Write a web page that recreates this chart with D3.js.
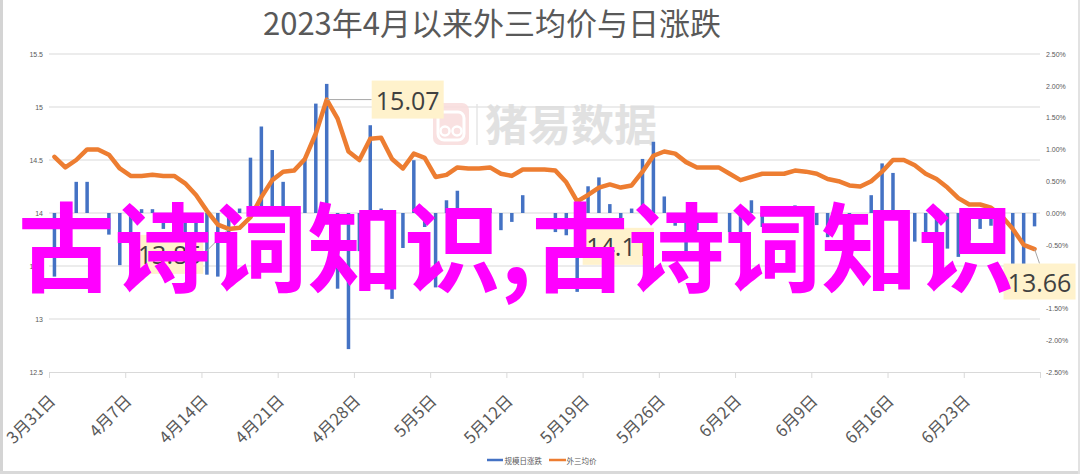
<!DOCTYPE html>
<html><head><meta charset="utf-8">
<script src="https://cdn.jsdelivr.net/npm/d3@7"></script>
<style>body{margin:0;background:#fff;} svg{display:block;}</style>
</head><body>
<svg id="c" width="1080" height="474"></svg>
<script>
const dates = [
"2023-03-31",
"2023-04-01","2023-04-02","2023-04-03","2023-04-04","2023-04-05","2023-04-06","2023-04-07","2023-04-08","2023-04-09","2023-04-10",
"2023-04-11","2023-04-12","2023-04-13","2023-04-14","2023-04-15","2023-04-16","2023-04-17","2023-04-18","2023-04-19","2023-04-20",
"2023-04-21","2023-04-22","2023-04-23","2023-04-24","2023-04-25","2023-04-26","2023-04-27","2023-04-28","2023-04-29","2023-04-30",
"2023-05-01","2023-05-02","2023-05-03","2023-05-04","2023-05-05","2023-05-06","2023-05-07","2023-05-08","2023-05-09","2023-05-10",
"2023-05-11","2023-05-12","2023-05-13","2023-05-14","2023-05-15","2023-05-16","2023-05-17","2023-05-18","2023-05-19","2023-05-20",
"2023-05-21","2023-05-22","2023-05-23","2023-05-24","2023-05-25","2023-05-26","2023-05-27","2023-05-28","2023-05-29","2023-05-30","2023-05-31",
"2023-06-01","2023-06-02","2023-06-03","2023-06-04","2023-06-05","2023-06-06","2023-06-07","2023-06-08","2023-06-09","2023-06-10",
"2023-06-11","2023-06-12","2023-06-13","2023-06-14","2023-06-15","2023-06-16","2023-06-17","2023-06-18","2023-06-19","2023-06-20",
"2023-06-21","2023-06-22","2023-06-23","2023-06-24","2023-06-25","2023-06-26","2023-06-27","2023-06-28","2023-06-29"
];
const avgPrice = [
14.53,
14.43,14.50,14.60,14.60,14.55,14.42,14.35,14.35,14.36,14.35,
14.35,14.28,14.17,14.02,13.89,13.85,13.86,13.96,14.15,14.31,
14.39,14.40,14.51,14.75,15.07,14.89,14.58,14.50,14.70,14.71,
14.51,14.42,14.56,14.52,14.34,14.36,14.43,14.42,14.42,14.43,
14.37,14.35,14.41,14.41,14.41,14.40,14.29,14.11,14.17,14.24,
14.27,14.24,14.26,14.39,14.54,14.58,14.56,14.48,14.43,14.43,14.43,
14.37,14.31,14.34,14.37,14.37,14.37,14.40,14.39,14.37,14.32,
14.30,14.26,14.25,14.30,14.39,14.50,14.50,14.45,14.37,14.32,
14.24,14.14,14.08,14.08,14.05,13.97,13.85,13.70,13.66
];
const dailyChangePct = [
-1.00,
-0.50,0.49,0.49,0.00,-0.34,-0.82,-0.50,0.06,0.06,-0.25,
-0.25,-0.53,-0.60,-0.97,-1.00,-0.30,0.07,0.87,1.36,0.99,
0.49,0.07,0.85,1.72,2.03,-1.19,-2.14,-0.60,1.38,0.07,
-1.35,-0.55,0.83,-0.22,-1.17,0.20,0.35,0.00,0.00,0.07,
-0.27,-0.14,0.28,0.00,0.00,-0.30,-0.35,-1.24,0.42,0.56,
0.14,-0.22,0.07,0.85,1.12,0.26,-0.20,-0.60,-0.27,0.00,0.00,
-0.30,-0.33,0.20,-0.22,0.00,0.00,0.12,-0.06,-0.19,-0.38,
-0.10,-0.15,0.00,0.28,0.78,0.63,0.00,-0.45,-0.30,-0.35,
-0.56,-0.69,-0.43,-0.25,-0.20,-0.43,-0.85,-0.85,-0.21
];
const xTickDates = ["2023-03-31","2023-04-07","2023-04-14","2023-04-21","2023-04-28","2023-05-05","2023-05-12","2023-05-19","2023-05-26","2023-06-02","2023-06-09","2023-06-16","2023-06-23","2023-06-30"];
const xTickLabels = ["3月31日","4月7日","4月14日","4月21日","4月28日","5月5日","5月12日","5月19日","5月26日","6月2日","6月9日","6月16日","6月23日",""];
const leftTicks = [12.5,13,13.5,14,14.5,15,15.5];
const leftTickLabels = ["12.5","13","13.5","14","14.5","15","15.5"];
const rightTicks = [-2.5,-2,-1.5,-1,-0.5,0,0.5,1,1.5,2,2.5];
const rightTickLabels = ["-2.50%","-2.00%","-1.50%","-1.00%","-0.50%","0.00%","0.50%","1.00%","1.50%","2.00%","2.50%"];
const seriesNames = ["规模日涨跌","外三均价"];
const chartTitle = "2023年4月以来外三均价与日涨跌";
const calloutDates = ["2023-04-25","2023-04-16","2023-05-18","2023-06-29"];
const overlayText = "古诗词知识,古诗词知识";
const watermarkText = "猪易数据";

const svg = d3.select("#c");
const parse = d3.timeParse("%Y-%m-%d");
const x = d3.scaleTime().domain([parse("2023-03-31"), parse("2023-06-30")]).range([49, 1040]);
const slot = x(parse("2023-04-01")) - x(parse("2023-03-31"));
const cx = d => x(parse(d)) + slot / 2;
const yL = d3.scaleLinear().domain([12.5, 15.5]).range([372, 54]);
const yR = d3.scaleLinear().domain([-2.5, 2.5]).range([372, 54]);
const FONT = "'Noto Sans CJK SC','Noto Sans',sans-serif";
const GRID = "#d9d9d9", TXT = "#595959", BLUE = "#4472C4", ORANGE = "#ED7D31";

// frame strips
svg.append("rect").attr("x",0).attr("y",0).attr("width",1080).attr("height",474).attr("fill","#fff");
svg.append("rect").attr("x",0).attr("y",0).attr("width",3).attr("height",474).attr("fill","#d4d4d4");
svg.append("rect").attr("x",0).attr("y",471).attr("width",1080).attr("height",3).attr("fill","#d9d9d9");
svg.append("rect").attr("x",1078).attr("y",0).attr("width",2).attr("height",474).attr("fill","#e2e2e2");

// title
svg.append("text").attr("x",492).attr("y",35).attr("text-anchor","middle")
  .attr("font-family",FONT).attr("font-size",31).attr("fill",TXT).text(chartTitle);

// gridlines
svg.append("g").selectAll("line").data(leftTicks.slice(1)).join("line")
  .attr("x1",49).attr("x2",1040).attr("y1",d=>yL(d)).attr("y2",d=>yL(d))
  .attr("stroke",GRID).attr("stroke-width",1);

// watermark
const wm = svg.append("g").attr("opacity",0.9);
wm.append("rect").attr("x",433).attr("y",103).attr("width",36).attr("height",42).attr("rx",7).attr("fill","#f9dede");
wm.append("rect").attr("x",438).attr("y",112).attr("width",26).attr("height",28).attr("rx",6).attr("fill","none").attr("stroke","#fff").attr("stroke-width",3);
wm.append("circle").attr("cx",445).attr("cy",131).attr("r",4.5).attr("fill","none").attr("stroke","#fff").attr("stroke-width",2.5);
wm.append("circle").attr("cx",457).attr("cy",131).attr("r",4.5).attr("fill","none").attr("stroke","#fff").attr("stroke-width",2.5);
wm.append("line").attr("x1",477).attr("x2",477).attr("y1",104).attr("y2",145).attr("stroke","#e4e4e4").attr("stroke-width",1.5);
wm.append("text").attr("x",485).attr("y",141).attr("font-family",FONT).attr("font-weight","bold")
  .attr("font-size",43).attr("fill","#dedede").text(watermarkText);

// bottom axis
const xa = svg.append("g").attr("transform","translate(0,372)")
  .call(d3.axisBottom(x).tickValues(xTickDates.map(parse)).tickSize(6).tickSizeOuter(0)
    .tickFormat((d,i)=>xTickLabels[i]));
xa.select(".domain").attr("stroke",GRID);
xa.selectAll(".tick line").attr("stroke",GRID);
xa.selectAll(".tick text").attr("y",null).attr("dy",null).attr("text-anchor","end")
  .attr("dominant-baseline","central").attr("transform","translate(2,25) rotate(-45)")
  .attr("font-family",FONT).attr("font-size",16.5).attr("fill",TXT);

// left axis
const la = svg.append("g").attr("transform","translate(46,0)")
  .call(d3.axisLeft(yL).tickValues(leftTicks).tickSize(0).tickPadding(3).tickFormat((d,i)=>leftTickLabels[i]));
la.select(".domain").remove();
la.selectAll("text").attr("font-family","'Liberation Sans',sans-serif").attr("font-size",7).attr("fill",TXT);

// right axis
const ra = svg.append("g").attr("transform","translate(1043,0)")
  .call(d3.axisRight(yR).tickValues(rightTicks).tickSize(0).tickPadding(3).tickFormat((d,i)=>rightTickLabels[i]));
ra.select(".domain").remove();
ra.selectAll("text").attr("font-family","'Liberation Sans',sans-serif").attr("font-size",7).attr("fill",TXT);

// bars
svg.append("g").selectAll("rect").data(dailyChangePct).join("rect")
  .attr("x",(d,i)=>cx(dates[i]) - 1.75).attr("width",3.5)
  .attr("y",d=>Math.min(yR(d),yR(0))).attr("height",d=>Math.abs(yR(d)-yR(0)))
  .attr("fill",BLUE);

// line
svg.append("path").datum(avgPrice)
  .attr("d", d3.line().x((d,i)=>cx(dates[i])).y(d=>yL(d)))
  .attr("fill","none").attr("stroke",ORANGE).attr("stroke-width",4.5)
  .attr("stroke-linejoin","round").attr("stroke-linecap","round");

// callouts (box offset from the point: dx, dy of box centre; width, height)
const calloutLayout = [
  {dx: 81, dy: 0, w: 72, h: 38, ax: -36},
  {dx: -59, dy: 25.5, w: 67, h: 39, ax: 33.5},
  {dx: 41, dy: 45, w: 71, h: 37, ax: -35.5},
  {dx: 5, dy: 32.5, w: 72, h: 36, ax: 0, top: true}
];
const cg = svg.append("g");
calloutDates.forEach((d,k) => {
  const i = dates.indexOf(d);
  const px = cx(d), py = yL(avgPrice[i]);
  const L = calloutLayout[k];
  const bx = px + L.dx, by = py + L.dy;
  const ex = bx + L.ax, ey = L.top ? by - L.h/2 : by;
  cg.append("line").attr("x1",px).attr("y1",py).attr("x2",ex).attr("y2",ey)
    .attr("stroke","#a6a6a6").attr("stroke-width",1);
  cg.append("rect").attr("x",bx-L.w/2).attr("y",by-L.h/2).attr("width",L.w).attr("height",L.h).attr("fill","#FFF2CC");
  cg.append("text").attr("x",bx).attr("y",by).attr("text-anchor","middle").attr("dominant-baseline","central")
    .attr("font-family","'Open Sans','Noto Sans',sans-serif").attr("font-size",25).attr("fill","#404040")
    .text(d3.format(".2f")(avgPrice[i]));
});

// legend
const lg = svg.append("g");
lg.append("line").attr("x1",487).attr("x2",503).attr("y1",460).attr("y2",460).attr("stroke",BLUE).attr("stroke-width",2.5);
lg.append("text").attr("x",504.5).attr("y",460).attr("dominant-baseline","central").attr("font-family",FONT)
  .attr("font-size",7.5).attr("fill",TXT).text(seriesNames[0]);
lg.append("line").attr("x1",549).attr("x2",566).attr("y1",460).attr("y2",460).attr("stroke",ORANGE).attr("stroke-width",2.5);
lg.append("text").attr("x",566.5).attr("y",460).attr("dominant-baseline","central").attr("font-family",FONT)
  .attr("font-size",7.5).attr("fill",TXT).text(seriesNames[1]);

// overlay text
svg.append("text").attr("x",18).attr("y",284).attr("font-family","'Noto Sans CJK SC',sans-serif")
  .attr("font-weight","bold").attr("font-size",96.5).attr("fill","#FF00FF").text(overlayText);
</script>
</body></html>
